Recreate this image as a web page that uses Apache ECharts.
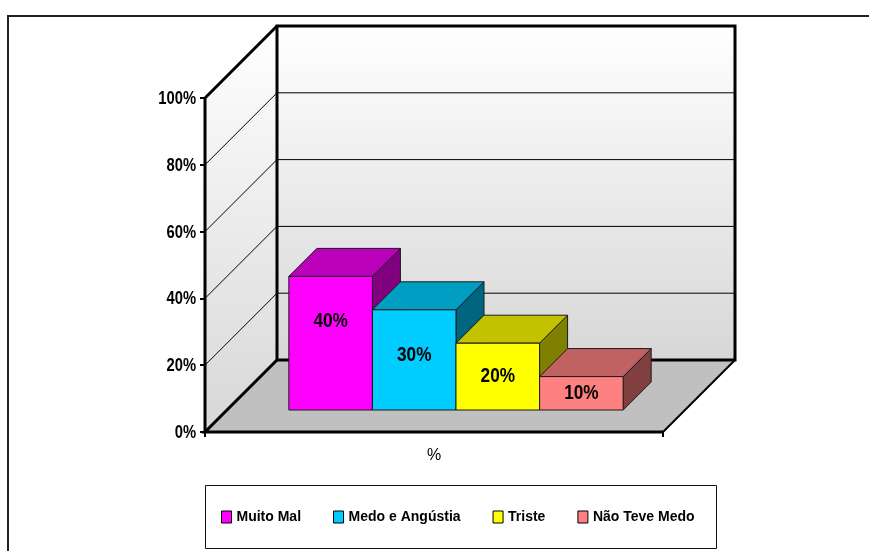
<!DOCTYPE html>
<html>
<head>
<meta charset="utf-8">
<script src="https://cdn.jsdelivr.net/npm/echarts@6/dist/echarts.min.js"></script>
<style>
  html, body { margin: 0; padding: 0; background: #fff; }
  #chart { width: 869px; height: 551px; }
</style>
</head>
<body>
<div id="chart"></div>
<script>
// ---- data ----
const categories = ['%'];
const seriesNames = ['Muito Mal', 'Medo e Angústia', 'Triste', 'Não Teve Medo'];
const muitoMal = [40];
const medoAngustia = [30];
const triste = [20];
const naoTeveMedo = [10];
const yTicks = [0, 20, 40, 60, 80, 100];

const seriesValues = [muitoMal, medoAngustia, triste, naoTeveMedo];

// ---- style ----
const FONT = "'Liberation Sans', Arial, sans-serif";
const NARROW = 0.82;   // horizontal squeeze giving a condensed bold face
const DEPTH = 72;      // oblique depth of the box walls (px, 45°)
const BAR_FRONT = 22;  // depth of the bar front faces
const BAR_BACK = 50;   // depth of the bar back faces
const CLUSTER = 0.73;  // share of the category band covered by the bars

const palette = [
  { front: '#FF00FF', top: '#BA00BA', side: '#800080' },
  { front: '#00CCFF', top: '#009EC2', side: '#006680' },
  { front: '#FFFF00', top: '#C2C200', side: '#808000' },
  { front: '#FF8080', top: '#C06262', side: '#804040' }
];

function wallGradient() {
  return {
    type: 'linear', x: 0, y: 0, x2: 0, y2: 1,
    colorStops: [{ offset: 0, color: '#FFFFFF' }, { offset: 1, color: '#D7D7D7' }]
  };
}

function narrowText(text, x, y, size, align) {
  return { type: 'text', x: x, y: y, scaleX: NARROW, scaleY: 1,
    style: { text: text, x: 0, y: 0, align: align, verticalAlign: 'middle', fill: '#000',
      fontSize: size, fontWeight: 'bold', fontFamily: FONT } };
}

// box: side wall, back wall, floor, gridlines, heavy edges and value-axis labels
function renderFrame(params, api) {
  const cs = params.coordSys;
  const x0 = cs.x, x1 = cs.x + cs.width;
  const yBase = api.coord([0, yTicks[0]])[1];
  const yTop = api.coord([0, yTicks[yTicks.length - 1]])[1];
  const d = DEPTH;
  const kids = [];
  kids.push({ type: 'polygon', shape: { points: [[x0, yTop], [x0 + d, yTop - d], [x0 + d, yBase - d], [x0, yBase]] },
    style: { fill: wallGradient() } });
  kids.push({ type: 'rect', shape: { x: x0 + d, y: yTop - d, width: x1 - x0, height: yBase - yTop },
    style: { fill: wallGradient() } });
  kids.push({ type: 'polygon', shape: { points: [[x0, yBase], [x0 + d, yBase - d], [x1 + d, yBase - d], [x1, yBase]] },
    style: { fill: '#C0C0C0' } });
  yTicks.slice(1, -1).forEach(v => {
    const y = api.coord([0, v])[1];
    kids.push({ type: 'polyline', shape: { points: [[x0, y], [x0 + d, y - d], [x1 + d, y - d]] },
      style: { stroke: '#000', lineWidth: 1, fill: null } });
  });
  const heavy = (pts, w) => kids.push({ type: 'polyline', shape: { points: pts },
    style: { stroke: '#000', lineWidth: w, fill: null, lineJoin: 'miter' } });
  heavy([[x0 + d, yBase - d], [x0 + d, yTop - d], [x1 + d, yTop - d], [x1 + d, yBase - d], [x0 + d, yBase - d]], 3);
  heavy([[x0, yBase], [x0, yTop], [x0 + d, yTop - d]], 3);
  heavy([[x0 + d, yBase - d], [x0, yBase], [x1, yBase]], 3);
  heavy([[x1, yBase], [x1 + d, yBase - d]], 2);
  yTicks.forEach(v => {
    kids.push(narrowText(v + '%', x0 - 9, api.coord([0, v])[1] + 1, 18, 'right'));
  });
  return { type: 'group', children: kids };
}

// one 3D bar per series: front face, top, right side and value label
function makeBarRenderer(i) {
  const c = palette[i];
  return function (params, api) {
    const cat = api.value(0), v = api.value(1);
    const base = api.coord([cat, 0]);
    const band = api.size([1, 0])[0];
    const bw = band * CLUSTER / seriesNames.length;
    const xl = base[0] - bw * seriesNames.length / 2 + i * bw + BAR_FRONT;
    const xr = xl + bw;
    const yb = base[1] - BAR_FRONT;
    const yt = api.coord([cat, v])[1] - BAR_FRONT;
    const dd = BAR_BACK - BAR_FRONT;
    const edge = { stroke: '#1a1a1a', lineWidth: 1 };
    const h = yb - yt;
    return {
      type: 'group',
      children: [
        { type: 'polygon', shape: { points: [[xr, yt], [xr + dd, yt - dd], [xr + dd, yb - dd], [xr, yb]] },
          style: Object.assign({ fill: c.side }, edge) },
        { type: 'polygon', shape: { points: [[xl, yt], [xl + dd, yt - dd], [xr + dd, yt - dd], [xr, yt]] },
          style: Object.assign({ fill: c.top }, edge) },
        { type: 'rect', shape: { x: xl, y: yt, width: bw, height: h },
          style: Object.assign({ fill: c.front }, edge) },
        narrowText(v + '%', (xl + xr) / 2, yt + Math.min(h / 2, 45), 21, 'center')
      ]
    };
  };
}

const series = [{
  type: 'custom', name: 'frame', z: 1, silent: true,
  renderItem: renderFrame, data: [[0, 0]]
}];
seriesNames.forEach((name, i) => {
  series.push({
    type: 'custom', name: name, z: 2,
    itemStyle: { color: palette[i].front },
    renderItem: makeBarRenderer(i),
    data: seriesValues[i].map((v, k) => [k, v])
  });
});

const chart = echarts.init(document.getElementById('chart'), null, { renderer: 'canvas' });
chart.setOption({
  animation: false,
  backgroundColor: '#fff',
  grid: { left: 205, right: 206, top: 98, bottom: 119, containLabel: false },
  xAxis: {
    type: 'category', data: categories,
    axisLine: { show: false },
    axisTick: { show: true, length: 5, lineStyle: { color: '#000', width: 2 } },
    axisLabel: { color: '#000', fontSize: 16, fontFamily: FONT, margin: 16 },
    splitLine: { show: false }
  },
  yAxis: {
    type: 'value', min: yTicks[0], max: yTicks[yTicks.length - 1], interval: 20,
    axisLine: { show: false },
    axisTick: { show: true, length: 5, lineStyle: { color: '#000', width: 2 } },
    axisLabel: { show: false },
    splitLine: { show: false }
  },
  legend: {
    data: seriesNames,
    left: 221, top: 510, padding: 0,
    icon: 'rect', itemWidth: 10, itemHeight: 12, itemGap: 32,
    itemStyle: { borderColor: '#000', borderWidth: 1 },
    textStyle: { color: '#000', fontSize: 14, fontWeight: 'bold', fontFamily: FONT },
    selectedMode: false
  },
  graphic: [
    { type: 'rect', z: 0, silent: true, shape: { x: 8, y: 16, width: 900, height: 600 },
      style: { fill: null, stroke: '#222', lineWidth: 2 } },
    { type: 'rect', z: 0, silent: true, shape: { x: 205.5, y: 485.5, width: 511, height: 63 },
      style: { fill: null, stroke: '#111', lineWidth: 1 } }
  ],
  series: series
});
</script>
</body>
</html>
